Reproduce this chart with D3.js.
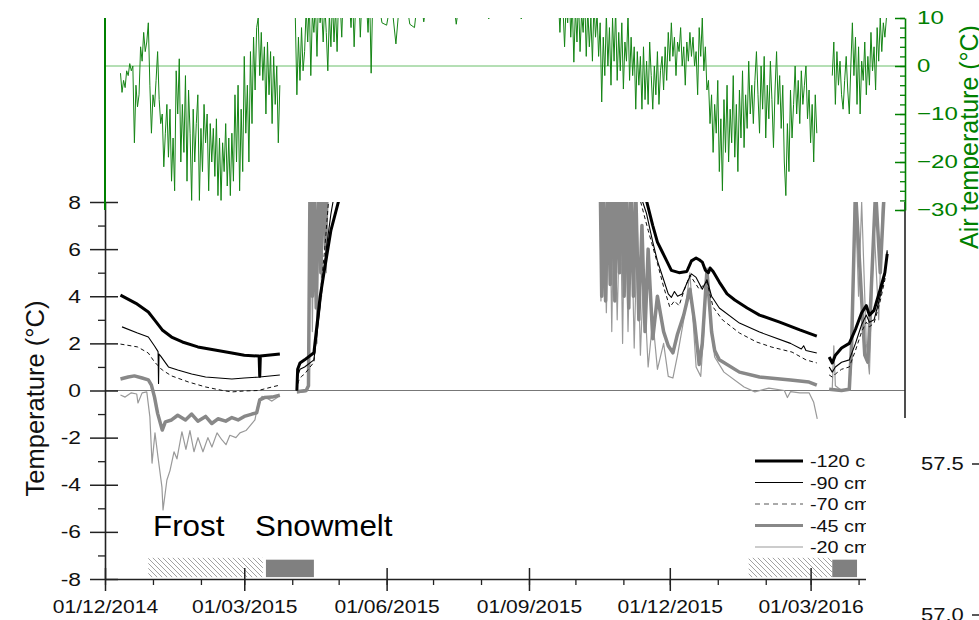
<!DOCTYPE html>
<html>
<head>
<meta charset="utf-8">
<script src="https://cdn.jsdelivr.net/npm/d3@7"></script>
<style>
  body { margin: 0; background: #fff; }
  svg { display: block; font-family: "Liberation Sans", Arial, sans-serif; }
</style>
</head>
<body>
<svg id="chart" width="979" height="620"></svg>
<script>

/****************************/
/*           Data           */
/****************************/
// day numbers are counted from 01/12/2014
const startDate = new Date(2014, 11, 1);
const endDate   = new Date(2016, 4, 1);

// air temperature (°C), daily values
const airWinter15Start = 10;
const airWinter15 = [-1.5,-5.5,-3,-4.5,-1,-2,0.5,-1,0,-16,-4,-8.5,-6,4,1,7,3,5,9,-4,-14,-6,-8.5,-3,3,-7,-12,-10,-21,-14,
  -8,-19,-9,-24,-15,-26,-1,-10,1.5,-20,-8,-18,-2,-24,-5,-14,-28,-9,-20,-12,-6,-28,-13,-22,-8,-16,-10,-26,-12,-20,
  -13,-23,-11,-27,-15,-28,-16,-22,-12,-25,-15,-27,-14,-24,-6,-20,-4,-26,-9,-22,2,-14,-4,-20,3,-12,6,-5,8,10,
  -2,7,-3,4,-10,5,-6,3,-12,2,-8,0,-16,-4];

const airSpring15Start = 123;
const airSpring15 = [10,-6,6,-3,8,-1,3,12,5,14,-2,11,7,13,2,15,9,12,5,13,7,-1,11,4,14,5,12,3,15,13,6,16,12,14,17,13,8,15,4,13,
  11,16,6,14,15,17,13,7,15,-1.5,14,16,13];

// summer: one value every 3 days
const airSummer15Start = 176;
const airSummer15 = [15,9,8.5,14,4.6,16,15,8.7,8,17,9.2,16,10,18,16,15,17,8.7,16,18,15,17,14,16,9.8,17,15,16,18,14,
  15,9.8,16,13,15,14,16,12,14];

const airWinter16Start = 293;
const airWinter16 = [14,7,15,12,4,13,9,16,6,13,0.8,12,5,14,3,11,7,15,2,12,4,10,1,13,6,11,2,9,
  -7.5,6,-2,11,0,8,-4,10,1,12,-3,7,-1,9,-4.8,5,1,11,-3,6,-2,4,-9,3,
  -4,2,-9,4,-7,1,-8,5,-2,-9,0,-6,3,-8,-1,2,-5,4,-3,7,1,
  9,2,6,-2,5,3,8,0,4,-4,5,1,7,2,6,0,3,-6,8,2,10,-1,4,-5,
  -3,-12,-6,-18,-8,-14,-3,-22,-11,-26,
  -7,-18,-4,-20,-9,-16,-2,-19,-8,-22,-5,-15,-1,-17,-6,-13,1,-10,-4,-12,-3,3,
  -6,-14,0,-9,2,-15,-4,-11,1,-7,-17,-5,3,-8,-2,-13,-4,
  -20,-27,-12,-22,-5,-15,-8,
  0,-10,-3,-12,-1,-8,-4,0,-11,-5,
  -16,-8,-20,-6,-14];

const airSpring16Start = 470;
const airSpring16 = [-2,5,-8,3,-4,1,-6,-9,-3,2,-5,-10,0,9,-2,6,-8,4,-10,1,-3,5,-6,2,-4,7,-1,4,-5,8,1,10,3,9,6,10];

// soil temperature (°C), [day, value], one array per measuring period
const soil120 = [
  [[10,4.05],[20,3.7],[28,3.33],[32,3.0],[37,2.57],[43,2.27],[50,2.06],[60,1.85],[71,1.72],[82,1.59],[90,1.5],[99.6,1.46],[100,0.6],[100.4,1.46],[113,1.55]],
  [[124,0],[124.5,0.9],[126,1.17],[129,1.3],[135,1.6],[139,3.97],[142,5.2],[146,6.8],[152,8.3]],
  [[349,8.3],[354,7.0],[357,6.3],[360,5.9],[363,5.5],[366,5.1],[371,5.0],[376,5.05],[379,5.5],[382,5.62],[384,5.55],[386,5.45],[388,5.1],[390,5.0],[391,5.2],[393,5.05],[397,4.6],[402,4.1],[407,3.84],[415,3.5],[423,3.2],[436,2.9],[449,2.57],[460,2.31]],
  [[468,1.42],[470,1.17],[472,1.5],[476,1.8],[481,2.0],[485,2.6],[489,3.3],[492,3.6],[494,3.2],[497,3.4],[501,4.3],[504,5.0],[505.5,5.8]]
];
const soil90 = [
  [[11,2.7],[21,2.44],[28,2.27],[32,1.89],[34.3,1.65],[34.6,0.3],[34.9,1.55],[36,1.46],[41,1.0],[47,0.87],[56,0.7],[65,0.57],[82,0.49],[90,0.53],[100,0.57],[113,0.66]],
  [[124,0],[124.5,0.6],[126,0.9],[129,1.0],[135,1.3],[139,3.5],[142,5.5],[146,7.5],[150,9]],
  [[345,8.5],[350,7.5],[354,6.3],[357,5.5],[361,4.7],[364,4.1],[366,3.95],[368,4.2],[370,4.0],[373,4.1],[377,4.7],[379,4.95],[382,4.8],[386,4.3],[389,4.7],[392,4.0],[397,3.5],[410,2.86],[423,2.48],[443,2.0],[450,1.76],[451.5,1.9],[453,1.7],[460,1.59]],
  [[468,1.0],[470,0.78],[472,1.0],[476,1.2],[481,1.3],[485,2.0],[489,2.8],[492,3.2],[494,2.9],[497,3.0],[501,4.0],[504,4.9],[505.5,5.9]]
];
const soil70 = [
  [[10,1.97],[21,1.85],[28,1.59],[32,1.21],[37,0.87],[43,0.62],[54,0.36],[65,0.15],[76,0],[82,-0.06],[90,-0.02],[99,0],[108,0.15],[113,0.23]],
  [[124,0],[125,0.4],[127,0.6],[129,0.7],[135,1.2],[139,4.0],[142,6.0],[145,8.5]],
  [[345,8.3],[351,6.8],[357,5.4],[361,4.4],[365,3.54],[368,3.8],[371,3.6],[374,4.2],[378,4.9],[384,4.3],[389,4.6],[393,3.54],[399,3.0],[410,2.44],[421,2.06],[431,1.84],[444,1.63],[453,1.3],[460,1.17]],
  [[468,0.66],[470,0.57],[472,0.7],[476,0.9],[481,1.0],[485,1.7],[489,2.5],[492,2.9],[494,2.7],[497,2.86],[501,3.8],[504,4.7],[505.5,6.0]]
];
const soil45 = [
  [[10,0.49],[15,0.57],[19,0.62],[24,0.53],[28,0.45],[30,0.23],[32,-0.28],[34,-0.97],[37,-1.68],[39,-1.33],[43,-1.25],[47,-1.05],[52,-1.25],[56,-1.0],[60,-1.3],[65,-1.1],[69,-1.4],[73,-1.2],[78,-1.3],[82,-1.15],[86,-1.25],[90,-1.1],[95,-1.0],[98,-0.95],[100,-0.4],[103,-0.3],[108,-0.28],[113,-0.2]],
  [[124,-0.05],[130,0],[131.5,0.2],[132.5,9],[134,4],[135,9],[136.5,3.5],[138,9],[139.5,5],[141,10],[142.5,6],[144,10]],
  [[320,9],[321,4],[322,9],[323.5,3.8],[325,9],[326.5,4.5],[328,10],[329.5,3.8],[331,9],[332.5,5],[334,10],[335.5,4],[337,9],[338.5,3.5],[340,9],[341.5,4],[343,8.5],[345,3],[347,7],[349,2.5],[351,6],[354,2.2],[357,4],[361,2.5],[364,1.9],[367,1.6],[370,2.4],[374,3.2],[378,4.3],[381,2.9],[384,1.1],[386,2.0],[389,5.1],[392,2.5],[394,1.7],[397,1.3],[410,0.78],[423,0.57],[443,0.45],[455,0.36],[460,0.23]],
  [[468,0.05],[476,0],[481,0.05],[482.5,2],[485,8.5],[488,5],[491,1.5],[493,1.2],[495,4],[498,8.5],[501,5],[504,9],[505.5,9.5]]
];
const soil20 = [
  [[10,-0.19],[13,-0.28],[17,-0.1],[20.5,-0.15],[21.3,-0.53],[24,-0.1],[27,-0.06],[29,-1.12],[30.4,-3.08],[32.3,-1.8],[34.2,-2.8],[36.8,-4.1],[37.5,-5.07],[40,-3.8],[42,-3.4],[44.6,-2.6],[46.5,-2.9],[49.7,-1.75],[52.3,-2.5],[54.9,-1.7],[57.5,-2.6],[60.1,-2.0],[63.3,-2.6],[66.5,-2.0],[69.1,-2.4],[72.4,-1.8],[75.6,-2.1],[78.2,-2.3],[80.7,-1.9],[84.6,-2.0],[87.2,-1.8],[91.1,-1.7],[93.7,-1.5],[96.9,-1.25],[98.8,-0.6],[101.4,-0.25],[105.2,-0.35],[107.9,-0.45],[111.8,-0.28]],
  [[124,-0.1],[130,-0.05],[131.5,0.1],[132,6],[133,10],[134,2.5],[135.5,10],[137,2],[138.5,10],[140,4],[141.5,10],[143,5],[144.5,10]],
  [[320,8.5],[320.5,3.8],[322,9],[324,3.3],[326,9],[327.5,2.5],[329,9],[331,3.0],[333,8.5],[334.5,2.0],[336,9],[338,2.5],[340,8],[342,1.8],[344,7],[346,1.5],[348,5],[351,1.0],[354,3.0],[357,0.9],[361,2.0],[364,0.6],[367,0.53],[370,1.5],[374,3.0],[378,4.99],[380,3],[382,1.0],[385,0.6],[387,2.5],[389,5.2],[391,3],[394,1.42],[400,0.78],[413,0.15],[420,-0.06],[429,0.1],[439,0.0],[441,-0.3],[443,-0.05],[449,-0.1],[455,-0.1],[458,-0.5],[460.3,-1.2]],
  [[468,0],[470,0.1],[471,1.9],[472,0.2],[476,0],[481,0.1],[483,1.5],[484.5,9],[487,4],[489,8],[492,2],[494,0.7],[497,7],[500,3],[503,9],[505.5,10]]
];

const depthLabels = ["-120 cm", "-90 cm", "-70 cm", "-45 cm", "-20 cm"];

// frost and snowmelt periods
const frostPeriods    = [["2014-12-29", "2015-03-13"], ["2016-01-21", "2016-03-15"]];
const snowmeltPeriods = [["2015-03-15", "2015-04-15"], ["2016-03-15", "2016-03-31"]];

const soilTicks = [-8, -6, -4, -2, 0, 2, 4, 6, 8];
const airTicks  = [-30, -20, -10, 0, 10];
const otherPanelTicks = ["57.5", "57.0"];

/****************************/
/*     Scales and helpers   */
/****************************/
const svg = d3.select("#chart");
const green = "#008000";

const x = d3.scaleTime().domain([startDate, endDate]).range([105, 905]);
const ySoil = d3.scaleLinear().domain([-8, 8]).range([579, 202]);
const yAir  = d3.scaleLinear().domain([-30, 10]).range([210, 18]);

const dayToDate = d => new Date(startDate.getTime() + d * 864e5);
const parseDate = d3.timeParse("%Y-%m-%d");

// the original figure is slightly stretched sideways
const stretch = (sel, k) => sel.each(function () {
  const w = this.getComputedTextLength();
  d3.select(this).attr("textLength", w * k).attr("lengthAdjust", "spacingAndGlyphs");
});

const styles = [
  { stroke: "#000", width: 3,   dash: null },
  { stroke: "#000", width: 1.1, dash: null },
  { stroke: "#111", width: 1,   dash: "4,3" },
  { stroke: "#888", width: 3.5, dash: null },
  { stroke: "#999", width: 1.2, dash: null }
];
const soilSeries = [soil120, soil90, soil70, soil45, soil20];

/****************************/
/*        Defs / clips      */
/****************************/
const defs = svg.append("defs");

defs.append("clipPath").attr("id", "clip-soil")
  .append("rect")
    .attr("x", 105).attr("y", ySoil(8))
    .attr("width", 800).attr("height", ySoil(-8) - ySoil(8));

defs.append("clipPath").attr("id", "clip-air")
  .append("rect")
    .attr("x", 105).attr("y", yAir(10))
    .attr("width", 800).attr("height", yAir(-30) - yAir(10));

const hatch = defs.append("pattern")
  .attr("id", "hatch")
  .attr("patternUnits", "userSpaceOnUse")
  .attr("width", 5).attr("height", 5);
hatch.append("path")
  .attr("d", "M-1,-1L6,6M-1,4L1,6M4,-1L6,1")
  .attr("stroke", "#8a8a8a")
  .attr("stroke-width", 0.8);

/****************************/
/*        Zero lines        */
/****************************/
svg.append("line")
  .attr("x1", 105).attr("x2", 905)
  .attr("y1", yAir(0)).attr("y2", yAir(0))
  .attr("stroke", "#6abf6a").attr("stroke-width", 1);

svg.append("line")
  .attr("x1", 105).attr("x2", 905)
  .attr("y1", ySoil(0)).attr("y2", ySoil(0))
  .attr("stroke", "#777").attr("stroke-width", 1);

/****************************/
/*     Air temperature      */
/****************************/
const airSegments = [
  { start: airWinter15Start, step: 1, values: airWinter15 },
  { start: airSpring15Start, step: 1, values: airSpring15 },
  { start: airSummer15Start, step: 3, values: airSummer15 },
  { start: airWinter16Start, step: 1, values: airWinter16 },
  { start: airSpring16Start, step: 1, values: airSpring16 }
].map(s => s.values.map((v, i) => [s.start + i * s.step, v]));

// spring and summer 2015 are one continuous record, join them with autumn
const airPaths = [
  airSegments[0],
  airSegments[1].concat(airSegments[2], airSegments[3]),
  airSegments[4]
];

const airLine = d3.line()
  .x(d => x(dayToDate(d[0])))
  .y(d => yAir(d[1]));

svg.append("g")
  .attr("clip-path", "url(#clip-air)")
  .selectAll(".air-line")
  .data(airPaths)
  .join("path")
    .attr("class", "air-line")
    .attr("d", airLine)
    .attr("fill", "none")
    .attr("stroke", "#158515")
    .attr("stroke-width", 1);

/****************************/
/*     Soil temperature     */
/****************************/
const soilLine = d3.line()
  .x(d => x(dayToDate(d[0])))
  .y(d => ySoil(d[1]));

const soilG = svg.append("g").attr("clip-path", "url(#clip-soil)");

// grey (shallow) series below, black (deep) series on top
[4, 3, 2, 1, 0].forEach(i => {
  soilG.append("g")
    .selectAll("path")
    .data(soilSeries[i])
    .join("path")
      .attr("d", soilLine)
      .attr("fill", "none")
      .attr("stroke", styles[i].stroke)
      .attr("stroke-width", styles[i].width)
      .attr("stroke-dasharray", styles[i].dash)
      .attr("stroke-linejoin", "round");
});

/****************************/
/*   Frost / snowmelt bars  */
/****************************/
svg.selectAll(".frost")
  .data(frostPeriods)
  .join("rect")
    .attr("class", "frost")
    .attr("x", d => x(parseDate(d[0])))
    .attr("width", d => x(parseDate(d[1])) - x(parseDate(d[0])))
    .attr("y", ySoil(-7.1))
    .attr("height", ySoil(-7.92) - ySoil(-7.1))
    .attr("fill", "url(#hatch)");

svg.selectAll(".snowmelt")
  .data(snowmeltPeriods)
  .join("rect")
    .attr("class", "snowmelt")
    .attr("x", d => x(parseDate(d[0])))
    .attr("width", d => x(parseDate(d[1])) - x(parseDate(d[0])))
    .attr("y", ySoil(-7.18))
    .attr("height", ySoil(-7.92) - ySoil(-7.18))
    .attr("fill", "#808080");

svg.append("text")
  .attr("x", 153).attr("y", 536)
  .style("font-size", "29px")
  .text("Frost")
  .call(stretch, 1.08);

svg.append("text")
  .attr("x", 255).attr("y", 536)
  .style("font-size", "29px")
  .text("Snowmelt")
  .call(stretch, 1.08);

/****************************/
/*          Axes            */
/****************************/
// bottom time axis: labels every third month (Dec, Mar, Jun, Sep)
const majorDates = d3.timeMonth.range(startDate, endDate)
  .filter(d => d.getMonth() % 3 === 2);

svg.append("g")
  .attr("transform", `translate(0, ${ySoil(-8)})`)
  .call(d3.axisBottom(x).ticks(d3.timeMonth.every(1)).tickSize(6).tickFormat(""))
  .call(g => g.select(".domain").remove())
  .call(g => g.selectAll("line").attr("stroke", "#222").attr("stroke-width", 1.3));

const xAxis = svg.append("g")
  .attr("transform", `translate(0, ${ySoil(-8)})`)
  .call(d3.axisBottom(x).tickValues(majorDates)
    .tickFormat(d3.timeFormat("%d/%m/%Y")).tickSize(12).tickSizeOuter(0));

xAxis.select(".domain").attr("stroke", "#222").attr("stroke-width", 1.6);
xAxis.selectAll(".tick line").attr("y1", -11).attr("stroke", "#222").attr("stroke-width", 1.5);
xAxis.selectAll(".tick text")
  .attr("y", 34).attr("dy", 0)
  .attr("fill", "#111")
  .style("font-size", "18px")
  .style("font-family", "Liberation Sans, Arial, sans-serif")
  .call(stretch, 1.17);

// left soil axis
svg.append("g")
  .attr("transform", "translate(105, 0)")
  .call(d3.axisLeft(ySoil).tickValues(d3.range(-7, 8, 2)).tickSize(7).tickFormat(""))
  .call(g => g.select(".domain").remove())
  .call(g => g.selectAll("line").attr("stroke", "#222").attr("stroke-width", 1.3));

const yAxis = svg.append("g")
  .attr("transform", "translate(105, 0)")
  .call(d3.axisLeft(ySoil).tickValues(soilTicks).tickSize(15).tickSizeOuter(0)
    .tickFormat(d => d < 0 ? "-" + Math.abs(d) : d));

yAxis.select(".domain").attr("stroke", "#222").attr("stroke-width", 1.6);
yAxis.selectAll(".tick line").attr("x1", 13).attr("stroke", "#222").attr("stroke-width", 1.5);
yAxis.selectAll(".tick text")
  .attr("x", -24)
  .attr("fill", "#111")
  .style("font-size", "19px")
  .style("font-family", "Liberation Sans, Arial, sans-serif")
  .call(stretch, 1.2);

svg.append("text")
  .attr("transform", `translate(44, ${(ySoil(-8) + ySoil(8)) / 2 + 8}) rotate(-90)`)
  .attr("text-anchor", "middle")
  .style("font-size", "25.5px")
  .attr("fill", "#111")
  .text("Temperature (°C)");

// right edge of the soil panel
svg.append("line")
  .attr("x1", 905).attr("x2", 905)
  .attr("y1", ySoil(8)).attr("y2", ySoil(-8))
  .attr("stroke", "#222").attr("stroke-width", 1.6);

// air temperature axes (green)
svg.append("line")
  .attr("x1", 105).attr("x2", 105)
  .attr("y1", yAir(10)).attr("y2", yAir(-30))
  .attr("stroke", green).attr("stroke-width", 2);

svg.append("g")
  .attr("transform", "translate(905, 0)")
  .call(d3.axisLeft(yAir).tickValues(d3.range(-30, 11, 2)).tickSize(5).tickFormat(""))
  .call(g => g.select(".domain").remove())
  .call(g => g.selectAll("line").attr("stroke", green).attr("stroke-width", 1.3));

const airAxis = svg.append("g")
  .attr("transform", "translate(905, 0)")
  .call(d3.axisLeft(yAir).tickValues(airTicks).tickSize(10).tickSizeOuter(0));

airAxis.select(".domain").attr("stroke", green).attr("stroke-width", 1.6);
airAxis.selectAll(".tick line").attr("stroke", green).attr("stroke-width", 1.5);
airAxis.selectAll(".tick text")
  .attr("x", 12)
  .attr("text-anchor", "start")
  .attr("fill", green)
  .style("font-size", "18.5px")
  .style("font-family", "Liberation Sans, Arial, sans-serif")
  .call(stretch, 1.3);

svg.append("text")
  .attr("transform", "translate(978, 249) rotate(-90)")
  .attr("text-anchor", "start")
  .style("font-size", "25px")
  .attr("fill", green)
  .text("Air temperature (°C)");

/****************************/
/*          Legend          */
/****************************/
const legend = svg.append("g").attr("transform", "translate(755, 461)");

const legendRows = legend.selectAll(".legend-row")
  .data(depthLabels)
  .join("g")
    .attr("class", "legend-row")
    .attr("transform", (_, i) => `translate(0, ${i * 21.5})`);

legendRows.append("line")
  .attr("x1", 0).attr("x2", 48)
  .attr("stroke", (_, i) => i === 2 ? "#555" : styles[i].stroke)
  .attr("stroke-width", (_, i) => Math.min(styles[i].width, 3))
  .attr("stroke-dasharray", (_, i) => i === 2 ? "5,4" : null);

legendRows.append("text")
  .attr("x", 55).attr("y", 6)
  .style("font-size", "16.5px")
  .attr("fill", "#111")
  .text(d => d)
  .call(stretch, 1.2);

/****************************/
/*  Neighbouring panel edge */
/****************************/
svg.append("rect")
  .attr("x", 866).attr("y", 418)
  .attr("width", 113).attr("height", 202)
  .attr("fill", "#fff");

svg.selectAll(".other-tick")
  .data(otherPanelTicks)
  .join("text")
    .attr("class", "other-tick")
    .attr("x", 921)
    .attr("y", (_, i) => 470 + i * 151)
    .style("font-size", "18px")
    .attr("fill", "#111")
    .text(d => d)
    .call(stretch, 1.22);

svg.selectAll(".other-tick-line")
  .data(otherPanelTicks)
  .join("line")
    .attr("class", "other-tick-line")
    .attr("x1", 972).attr("x2", 979)
    .attr("y1", (_, i) => 464 + i * 151)
    .attr("y2", (_, i) => 464 + i * 151)
    .attr("stroke", "#222").attr("stroke-width", 1.5);

</script>
</body>
</html>
